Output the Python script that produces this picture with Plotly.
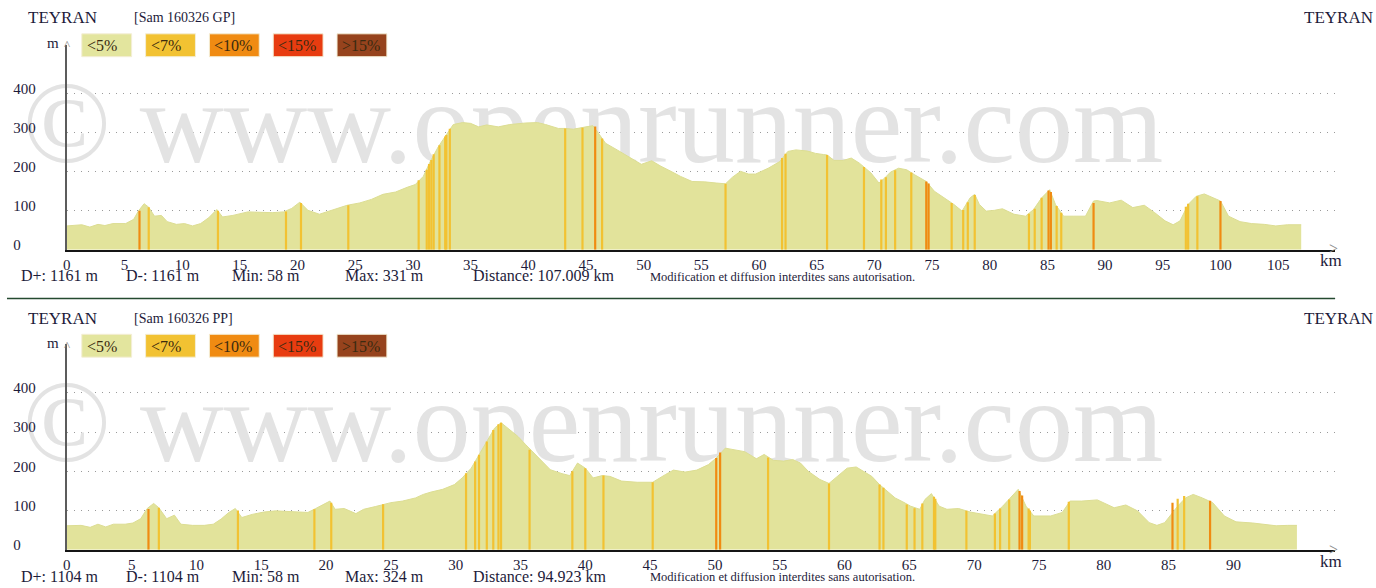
import plotly.graph_objects as go

# ---------------- data : upper profile (GP) ----------------
gp_km = [0, 1.3, 2.0, 2.7, 3.3, 4.0, 5.1, 5.8, 6.2, 6.7, 7.1, 7.6, 8.2, 8.7, 9.5, 10.2, 10.9, 11.6,
         12.3, 13.0, 13.5, 14.4, 15.7, 17.8, 18.8, 19.5, 20.2, 20.9, 21.9, 23.0, 23.6, 24.3, 25.4,
         26.4, 27.4, 28.5, 29.5, 30.2, 30.9, 31.5, 32.2, 32.9, 33.5, 34.3, 35.0, 35.7, 36.4, 37.4,
         38.4, 39.8, 40.8, 41.5, 42.6, 43.2, 43.9, 45.0, 45.6, 46.1, 46.7, 47.7, 48.7, 49.8, 50.7,
         51.5, 52.5, 53.2, 54.2, 55.3, 56.3, 57.1, 57.7, 58.4, 59.1, 59.7, 60.8, 61.8, 62.5, 63.2,
         64.2, 64.9, 65.6, 65.9, 66.5, 67.3, 68.0, 68.7, 69.7, 70.4, 70.9, 71.4, 72.1, 72.8, 73.5,
         74.5, 75.2, 76.3, 76.9, 77.6, 78.3, 78.7, 79.1, 79.7, 80.4, 81.1, 82.1, 83.1, 83.8, 84.5,
         85.2, 85.7, 86.4, 87.3, 88.3, 89.0, 89.3, 90.4, 91.4, 92.4, 93.4, 94.3, 95.2, 95.9, 96.5,
         97.2, 97.9, 98.6, 99.3, 100.0, 100.7, 101.7, 102.7, 103.8, 104.8, 105.8, 107.0]
gp_elev = [61, 64, 58, 65, 62, 67, 67, 78, 99, 118, 109, 86, 88, 72, 65, 67, 61, 67,
           82, 103, 84, 88, 97, 95, 97, 106, 122, 101, 91, 102, 108, 114, 120,
           129, 142, 148, 160, 167, 188, 226, 264, 294, 321, 326, 324, 315, 320, 315,
           321, 325, 326, 321, 311, 311, 309, 315, 318, 298, 273, 256, 239, 219, 228,
           214, 199, 188, 175, 174, 171, 169, 186, 201, 194, 194, 209, 226, 252, 256,
           253, 247, 244, 243, 229, 229, 235, 222, 197, 171, 184, 199, 209, 205, 192,
           175, 150, 129, 116, 99, 133, 142, 116, 99, 101, 105, 91, 86, 103, 133,
           154, 116, 86, 86, 86, 125, 126, 120, 127, 108, 114, 95, 74, 64, 74,
           116, 137, 143, 133, 125, 86, 72, 67, 65, 61, 64, 64]

# steep sections (position km, height m, slope class index)
gp_seg_km = [6.3, 7.1, 13.1, 19.0, 20.3, 24.4, 30.5, 31.2, 31.4, 31.6, 31.8, 32.3, 32.8, 32.9, 33.2,
             43.2, 44.7, 45.8, 46.4, 57.1, 62.0, 62.3, 65.9, 69.1, 70.6, 71.0, 71.8, 73.2, 74.5,
             74.7, 76.7, 77.7, 78.1, 78.7, 83.4, 83.9, 84.5, 85.1, 85.3, 85.8, 86.2, 89.0, 97.0,
             97.2, 98.0, 100.0]
gp_seg_h = [100, 109, 100, 98, 120, 114, 178, 205, 220, 230, 245, 268, 290, 294, 310,
            311, 313, 316, 285, 169, 235, 246, 243, 212, 180, 186, 204, 198, 175,
            170, 120, 102, 122, 140, 92, 105, 133, 152, 148, 112, 95, 120, 110,
            118, 137, 125]
gp_seg_cat = [2, 1, 1, 1, 1, 1, 1, 1, 1, 1, 1, 1, 1, 1, 1,
              1, 1, 2, 1, 1, 1, 1, 1, 1, 1, 1, 1, 1, 2,
              2, 1, 1, 1, 1, 1, 1, 1, 2, 2, 1, 1, 2, 1,
              1, 1, 2]

# ---------------- data : lower profile (PP) ----------------
pp_km = [0, 1.1, 1.8, 2.4, 3.0, 3.6, 4.5, 5.1, 5.7, 6.2, 6.7, 7.1, 7.7, 8.3, 8.8, 9.7, 10.6, 11.3,
         11.9, 12.5, 13.0, 13.5, 14.3, 15.2, 16.1, 17.4, 18.6, 19.2, 20.3, 20.7, 21.4, 22.3, 22.9,
         23.8, 24.4, 25.0, 25.9, 26.9, 27.5, 28.1, 29.0, 29.9, 30.5, 31.2, 31.8, 32.4, 33.0, 33.5,
         34.2, 34.8, 35.4, 36.4, 37.3, 38.2, 38.8, 39.4, 40.0, 40.6, 41.3, 41.9, 42.8, 44.0, 45.2,
         46.2, 46.8, 47.7, 48.6, 49.5, 50.1, 50.8, 51.4, 52.3, 53.2, 53.8, 54.5, 55.3, 56.0, 56.6,
         57.2, 58.1, 58.8, 59.6, 60.2, 60.9, 61.5, 62.1, 62.7, 63.3, 63.9, 64.5, 65.1, 65.8, 66.2,
         66.7, 67.3, 67.9, 68.8, 69.7, 70.7, 71.4, 72.2, 72.8, 73.4, 74.0, 74.6, 75.9, 76.8, 77.4,
         78.3, 79.5, 80.8, 81.7, 82.6, 83.5, 84.1, 84.7, 85.7, 86.3, 86.9, 87.6, 88.4, 89.3, 90.2,
         91.5, 92.4, 93.3, 94.2, 94.9]
pp_elev = [61, 62, 57, 65, 58, 65, 65, 68, 79, 105, 118, 107, 79, 88, 65, 62, 62, 65,
           78, 95, 105, 82, 90, 96, 99, 96, 95, 105, 124, 103, 105, 92, 103,
           110, 116, 120, 124, 132, 141, 147, 154, 166, 183, 208, 242, 276, 310, 324,
           305, 289, 268, 234, 204, 194, 189, 221, 208, 183, 189, 187, 175, 172, 172,
           192, 203, 198, 203, 217, 234, 259, 256, 250, 232, 243, 228, 226, 230, 221,
           200, 179, 169, 192, 208, 211, 200, 187, 166, 149, 132, 122, 111, 103, 128,
           143, 111, 103, 105, 96, 90, 86, 111, 132, 154, 111, 86, 86, 95, 124,
           124, 127, 107, 114, 99, 69, 62, 69, 111, 132, 141, 132, 120, 86, 71,
           68, 65, 61, 62, 62]

pp_seg_km = [6.3, 7.1, 13.2, 19.1, 20.4, 24.4, 30.8, 31.5, 31.8, 32.4, 32.9, 33.3, 33.5, 35.7,
             39.0, 40.0, 41.4, 45.2, 50.1, 50.4, 54.1, 58.8, 62.7, 63.0, 64.8, 65.4, 66.0, 66.9,
             67.0, 69.4, 71.6, 72.0, 72.7, 73.5, 73.7, 74.2, 74.3, 77.3, 85.3, 85.7, 86.2, 88.2]
pp_seg_h = [104, 107, 100, 103, 120, 116, 195, 225, 242, 276, 305, 320, 324, 255,
            200, 208, 189, 172, 234, 248, 235, 169, 166, 158, 115, 106, 118, 135,
            130, 99, 92, 105, 128, 150, 138, 105, 100, 122, 120, 130, 137, 125]
pp_seg_cat = [2, 1, 1, 1, 1, 1, 1, 1, 1, 1, 1, 1, 1, 1,
              1, 1, 1, 1, 2, 2, 1, 1, 1, 1, 1, 1, 1, 1,
              1, 1, 1, 1, 1, 2, 2, 1, 1, 1, 2, 1, 1, 2]

slope_labels = ["<5%", "<7%", "<10%", "<15%", ">15%"]
slope_colors = ["#E3E59E", "#F2C232", "#F08B12", "#E83C10", "#96431D"]

gp_xticks = list(range(0, 110, 5))
pp_xticks = list(range(0, 95, 5))
y_ticks = [0, 100, 200, 300, 400]

gp_title = "[Sam 160326 GP]"
pp_title = "[Sam 160326 PP]"
place = "TEYRAN"
gp_stats = ["D+: 1161 m", "D-: 1161 m", "Min: 58 m", "Max: 331 m", "Distance: 107.009 km"]
pp_stats = ["D+: 1104 m", "D-: 1104 m", "Min: 58 m", "Max: 324 m", "Distance: 94.923 km"]
notice = "Modification et diffusion interdites sans autorisation."
watermark = "© www.openrunner.com"

# ---------------- figure ----------------
W, H = 1376, 588
SERIF = "Liberation Serif, Times New Roman, serif"
TXT = "#1d1b3a"
FILL = "#E2E39B"


def px(x):
    return x / W


def py(y):
    return 1 - y / H


fig = go.Figure()


def add_profile(km, elev, seg_km, seg_h, seg_cat, xa, ya, wm_x, wm_y):
    # watermark below the profile
    fig.add_trace(go.Scatter(x=[wm_x], y=[wm_y], mode="text", text=[watermark],
                             textposition="middle center",
                             textfont=dict(family=SERIF, size=116, color="#E3E3E3"),
                             cliponaxis=False, hoverinfo="skip", showlegend=False,
                             xaxis=xa, yaxis=ya))
    fig.add_trace(go.Scatter(x=km, y=elev, mode="lines", fill="tozeroy",
                             fillcolor=FILL, line=dict(color="#DCDD93", width=1),
                             hoverinfo="skip", showlegend=False, xaxis=xa, yaxis=ya))
    for c in sorted(set(seg_cat)):
        xs, ys = [], []
        for k, h, cc in zip(seg_km, seg_h, seg_cat):
            if cc == c:
                xs += [k, k, None]
                ys += [0, h, None]
        fig.add_trace(go.Scatter(x=xs, y=ys, mode="lines",
                                 line=dict(color=slope_colors[c], width=2.2),
                                 hoverinfo="skip", showlegend=False, xaxis=xa, yaxis=ya))


add_profile(gp_km, gp_elev, gp_seg_km, gp_seg_h, gp_seg_cat, "x", "y", 45.6, 300)
add_profile(pp_km, pp_elev, pp_seg_km, pp_seg_h, pp_seg_cat, "x2", "y2", 40.6, 300)

X0, X1 = 63, 1335
y_text = [("%d" % v) + "\u2007" * (3 - len(str(v))) for v in y_ticks]


def xaxis(ticks, scale, anchor):
    return dict(domain=[px(X0), px(X1)], range=[0, (X1 - X0) / scale], anchor=anchor,
                tickvals=ticks, ticktext=[str(t) for t in ticks], ticks="",
                showgrid=False, zeroline=False, showline=True, linecolor="#151515",
                linewidth=2, tickfont=dict(family=SERIF, size=15, color=TXT),
                ticklabelstandoff=0, fixedrange=True)


def yaxis(dom, rng, anchor):
    return dict(domain=dom, range=rng, anchor=anchor, tickvals=y_ticks, ticktext=y_text,
                ticks="", showgrid=True, gridcolor="#9a9a9a", gridwidth=1,
                griddash="1.5px,5.5px", zeroline=False, showline=True,
                linecolor="#5c5c5c", linewidth=2, ticklabelshift=-5,
                ticklabelstandoff=26,
                tickfont=dict(family=SERIF, size=15, color=TXT), fixedrange=True)


fig.update_layout(
    width=W, height=H, margin=dict(l=0, r=0, t=0, b=0),
    paper_bgcolor="white", plot_bgcolor="rgba(0,0,0,0)", showlegend=False,
    xaxis=xaxis(gp_xticks, 11.57, "y"),
    yaxis=yaxis([py(251), py(45)], [0, (251 - 45) / 0.392], "x"),
    xaxis2=xaxis(pp_xticks, 13.0, "y2"),
    yaxis2=yaxis([py(552.5), py(346)], [0, (552.5 - 346) / 0.394], "x2"),
)

shapes, ann = [], []


def a(text, x, y, size, xanchor="left", color=TXT):
    ann.append(dict(text=text, x=px(x), y=py(y), xref="paper", yref="paper",
                    xanchor=xanchor, yanchor="middle", showarrow=False,
                    font=dict(family=SERIF, size=size, color=color)))


for off, title, stats in [(0, gp_title, gp_stats), (302, pp_title, pp_stats)]:
    a(place, 22, 18 + off, 17)
    a(title, 128, 18 + off, 14)
    a(place, 1375, 18 + off, 17, xanchor="right")
    a("m", 49, 43 + off, 15, xanchor="center")
    a("^", 63, 45 + off, 13, xanchor="center", color="#8a8a8a")
    a("&gt;", 1333, 250 + off, 16, xanchor="center", color="#8a8a8a")
    a("km", 1331, 262 + off, 17, xanchor="center")
    for i, (lab, col) in enumerate(zip(slope_labels, slope_colors)):
        x0 = 78 + 64 * i
        shapes.append(dict(type="rect", xref="paper", yref="paper",
                           x0=px(x0), x1=px(x0 + 50), y0=py(57 + off), y1=py(34 + off),
                           fillcolor=col, line=dict(color="#F4EED6", width=1)))
        a(lab.replace("<", "&lt;").replace(">", "&gt;"), x0 + 3, 46 + off, 16,
          color="#3a2a10")
    for s, x in zip(stats, [15, 120, 227, 340, 468]):
        a(s, x, 277 + off, 16)
    a(notice, 646, 278 + off, 12.5)

shapes.append(dict(type="line", xref="paper", yref="paper", x0=px(3), x1=px(1335),
                   y0=py(300), y1=py(300), line=dict(color="#244a30", width=1.5)))

fig.update_layout(shapes=shapes, annotations=ann)
fig.write_html("out.html", config={"displayModeBar": False},
               post_script="document.body.style.margin='0';document.body.style.overflow='hidden';")
